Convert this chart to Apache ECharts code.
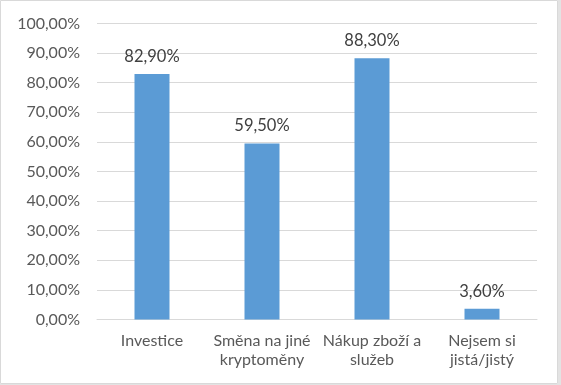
<!DOCTYPE html>
<html><head><meta charset="utf-8">
<script src="https://cdn.jsdelivr.net/npm/echarts@6/dist/echarts.min.js"></script>
<style>html,body{margin:0;padding:0;background:#fff}#c{width:561px;height:385px}</style>
</head><body><div id="c"></div>
<script>
const categories = ['Investice', 'Směna na jiné\nkryptoměny', 'Nákup zboží a\nslužeb', 'Nejsem si\njistá/jistý'];
const values = [82.9, 59.5, 88.3, 3.6];
const yMin = 0, yMax = 100, yStep = 10;

const fmt = v => v.toFixed(2).replace('.', ',') + '%';
const chart = echarts.init(document.getElementById('c'), null, {renderer: 'canvas'});
const font = 'Lato, "Open Sans", sans-serif';
chart.setOption({
  animation: false,
  backgroundColor: '#fff',
  graphic: [
    {type: 'rect', shape: {x: 0.5, y: 0.5, width: 557, height: 383}, style: {fill: 'none', stroke: '#d9d9d9', lineWidth: 1}},
    {type: 'rect', shape: {x: 558, y: 0, width: 3, height: 385}, style: {fill: '#e3e3e3'}},
    {type: 'rect', shape: {x: 0, y: 384, width: 561, height: 1}, style: {fill: '#e3e3e3'}}
  ],
  grid: {left: 97, right: 24, top: 23.5, bottom: 65.5, containLabel: false},
  xAxis: {
    type: 'category', data: categories,
    axisLine: {show: true, lineStyle: {color: '#d9d9d9'}},
    axisTick: {show: false},
    axisLabel: {color: '#595959', fontSize: 16, fontFamily: font, margin: 12, lineHeight: 19, interval: 0}
  },
  yAxis: {
    type: 'value', min: yMin, max: yMax, interval: yStep,
    axisLine: {show: false}, axisTick: {show: false},
    splitLine: {lineStyle: {color: '#d9d9d9'}},
    axisLabel: {color: '#595959', fontSize: 16, fontFamily: font, margin: 17, formatter: v => fmt(v)}
  },
  series: [{
    type: 'bar', data: values, barWidth: 35,
    itemStyle: {color: '#5b9bd5'},
    label: {show: true, position: 'top', distance: 9, color: '#404040', fontSize: 16.5, fontFamily: font, formatter: p => fmt(p.value)}
  }]
});
</script></body></html>
